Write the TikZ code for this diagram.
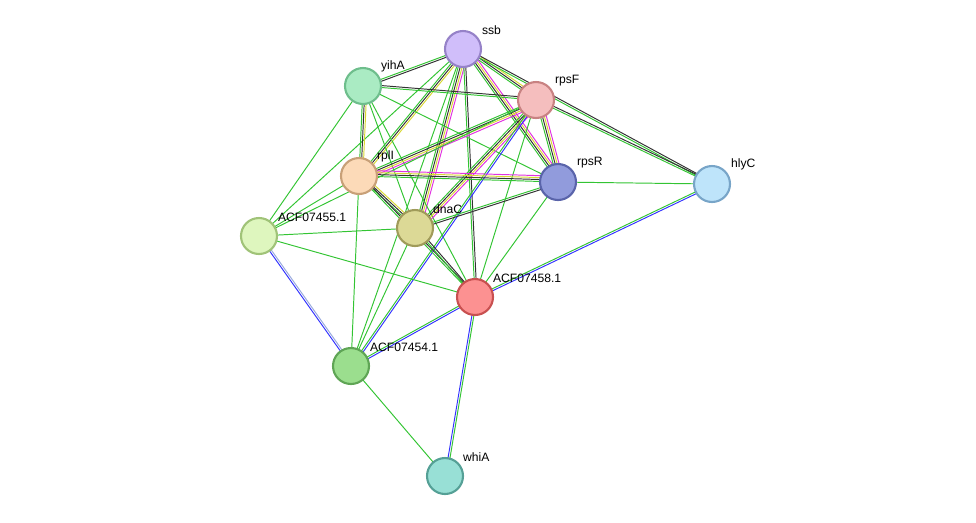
\documentclass[tikz,border=0pt]{standalone}
\usepackage{fontspec}
\setmainfont{Liberation Sans}
\usetikzlibrary{calc,backgrounds}
\definecolor{eg}{HTML}{33C433}
\definecolor{eb}{HTML}{3333FF}
\definecolor{ek}{HTML}{333333}
\definecolor{ey}{HTML}{D8D832}
\definecolor{em}{HTML}{E033E0}
\definecolor{el}{HTML}{99AADD}
\tikzset{
  prot/.style={circle, minimum size=0.72cm, line width=1.2pt, inner sep=0pt},
  lbl/.style={font=\fontsize{6.9}{8}\selectfont, anchor=south west, inner sep=1pt}
}
% edge between two named nodes, one parallel line per colour
\newcommand\ev[3]{%
  \foreach \c [count=\i] in {#3}{%
    \pgfmathsetmacro\o{(\i-1)*1.1}
    \draw[\c, line width=0.55pt] ($(#1)!\o pt!90:(#2)$) -- ($(#2)!\o pt!-90:(#1)$);
  }}
\begin{document}
\begin{tikzpicture}[x=0.02cm, y=-0.02cm]
\useasboundingbox (0,0) rectangle (976,522);
% proteins
\node[prot, fill={rgb,255:red,208;green,190;blue,250}, draw={rgb,255:red,150;green,130;blue,200}] (ssb) at (463,49) {};
\node[prot, fill={rgb,255:red,170;green,235;blue,195}, draw={rgb,255:red,110;green,190;blue,140}] (yihA) at (363,86) {};
\node[prot, fill={rgb,255:red,245;green,190;blue,190}, draw={rgb,255:red,200;green,130;blue,130}] (rpsF) at (536,100) {};
\node[prot, fill={rgb,255:red,252;green,218;blue,184}, draw={rgb,255:red,200;green,160;blue,120}] (rplI) at (359,176) {};
\node[prot, fill={rgb,255:red,145;green,155;blue,220}, draw={rgb,255:red,90;green,100;blue,170}] (rpsR) at (558,182) {};
\node[prot, fill={rgb,255:red,190;green,228;blue,250}, draw={rgb,255:red,120;green,165;blue,200}] (hlyC) at (712,184) {};
\node[prot, fill={rgb,255:red,222;green,246;blue,190}, draw={rgb,255:red,160;green,195;blue,120}] (a55) at (259,236) {};
\node[prot, fill={rgb,255:red,220;green,217;blue,150}, draw={rgb,255:red,160;green,155;blue,90}] (dnaC) at (415,228) {};
\node[prot, fill={rgb,255:red,252;green,145;blue,145}, draw={rgb,255:red,200;green,80;blue,80}] (a58) at (475,297) {};
\node[prot, fill={rgb,255:red,155;green,222;blue,142}, draw={rgb,255:red,95;green,165;blue,85}] (a54) at (351,366) {};
\node[prot, fill={rgb,255:red,152;green,224;blue,214}, draw={rgb,255:red,85;green,160;blue,150}] (whiA) at (445,476) {};
% labels
\node[lbl] at ($(ssb)+(17,-12)$) {ssb};
\node[lbl] at ($(yihA)+(16,-12)$) {yihA};
\node[lbl] at ($(rpsF)+(17,-12)$) {rpsF};
\node[lbl] at ($(rplI)+(16,-12)$) {rplI};
\node[lbl] at ($(rpsR)+(17,-12)$) {rpsR};
\node[lbl] at ($(hlyC)+(17,-12)$) {hlyC};
\node[lbl] at ($(a55)+(17,-12)$) {ACF07455.1};
\node[lbl] at ($(dnaC)+(16,-12)$) {dnaC};
\node[lbl] at ($(a58)+(16,-12)$) {ACF07458.1};
\node[lbl] at ($(a54)+(17,-12)$) {ACF07454.1};
\node[lbl] at ($(whiA)+(16,-12)$) {whiA};
% interactions
\begin{scope}[on background layer]
\ev{ssb}{yihA}{eg,ek}
\ev{ssb}{rpsF}{eg,ek,ey}
\ev{ssb}{rplI}{eg,ek,ey}
\ev{ssb}{rpsR}{eg,ek,ey,em}
\ev{ssb}{dnaC}{eg,ek,ey,em}
\ev{ssb}{a58}{eg,ek}
\ev{ssb}{hlyC}{eg,ek}
\ev{ssb}{a55}{eg}
\ev{ssb}{a54}{eg}
\ev{yihA}{rpsF}{eg,ek}
\ev{yihA}{rplI}{eg,ek,ey}
\ev{yihA}{rpsR}{eg}
\ev{yihA}{dnaC}{eg}
\ev{yihA}{a58}{eg}
\ev{yihA}{a55}{eg}
\ev{rpsF}{rplI}{eg,ek,ey,em}
\ev{rpsF}{rpsR}{eg,ek,ey,em}
\ev{rpsF}{dnaC}{eg,ek,ey,em}
\ev{rpsF}{hlyC}{eg,ek}
\ev{rpsF}{a58}{eg}
\ev{rpsF}{a54}{eg,eb}
\ev{rpsF}{a55}{eg}
\ev{rplI}{rpsR}{eg,ek,ey,em}
\ev{rplI}{dnaC}{eg,ek,ey}
\ev{rplI}{a58}{eg,ek}
\ev{rplI}{a55}{eg}
\ev{rplI}{a54}{eg}
\ev{rpsR}{hlyC}{eg}
\ev{rpsR}{dnaC}{eg,ek}
\ev{rpsR}{a58}{eg}
\ev{hlyC}{a58}{eg,eb}
\ev{dnaC}{a55}{eg}
\ev{dnaC}{a58}{eg,ek}
\ev{dnaC}{a54}{eg}
\ev{a55}{a58}{eg}
\ev{a55}{a54}{eb,el}
\ev{a58}{a54}{eg,eb}
\ev{a58}{whiA}{eb,eg}
\ev{a54}{whiA}{eg}
\end{scope}
\end{tikzpicture}
\end{document}
